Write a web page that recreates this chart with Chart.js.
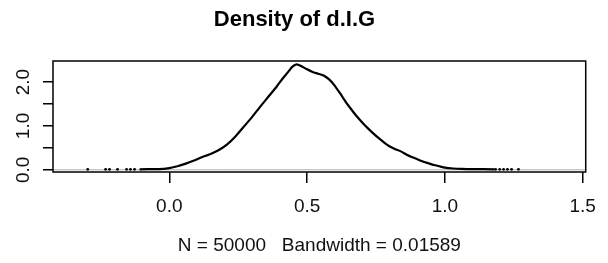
<!DOCTYPE html>
<html>
<head>
<meta charset="utf-8">
<script src="https://cdn.jsdelivr.net/npm/chart.js@4"></script>
<style>
  html, body { margin: 0; padding: 0; background: #fff; }
  #wrap { width: 608px; height: 263px; }
</style>
</head>
<body>
<div id="wrap"><canvas id="c" width="608" height="263"></canvas></div>
<script>
// Density curve of d.I.G (x, density)
const densX = [-0.108, -0.05, -0.02, 0.00, 0.03, 0.06, 0.09, 0.12, 0.15, 0.18,
               0.21, 0.24, 0.27, 0.30, 0.33, 0.36, 0.39, 0.41, 0.43, 0.445,
               0.46, 0.47, 0.48, 0.50, 0.52, 0.54, 0.56, 0.58, 0.60, 0.62,
               0.64, 0.66, 0.68, 0.70, 0.72, 0.74, 0.76, 0.78, 0.80, 0.82,
               0.84, 0.86, 0.88, 0.90, 0.92, 0.94, 0.96, 0.98, 1.00, 1.03,
               1.06, 1.10, 1.18];
const densY = [0.012, 0.015, 0.02, 0.04, 0.08, 0.14, 0.21, 0.29, 0.36, 0.45,
               0.58, 0.76, 0.98, 1.20, 1.44, 1.67, 1.90, 2.07, 2.22, 2.34,
               2.40, 2.39, 2.36, 2.29, 2.23, 2.19, 2.15, 2.06, 1.92, 1.74,
               1.55, 1.38, 1.22, 1.08, 0.95, 0.83, 0.72, 0.62, 0.53, 0.47,
               0.42, 0.35, 0.29, 0.24, 0.19, 0.15, 0.11, 0.08, 0.05, 0.03,
               0.02, 0.015, 0.012];

// isolated outliers showing as small bumps on the zero line
const outlierX = [-0.296, -0.231, -0.217, -0.188, -0.155, -0.141, -0.126,
                  1.184, 1.199, 1.213, 1.227, 1.242, 1.267];

const xTickVals = [0, 0.5, 1.0, 1.5];
const xTickLabels = ['0.0', '0.5', '1.0', '1.5'];
const yTickVals = [0, 0.5, 1.0, 1.5, 2.0];
const yTickLabels = ['0.0', '', '1.0', '', '2.0'];

const xMin = -0.422, xMax = 1.511;
const yMin = -0.05, yMax = 2.48;

const titleText = 'Density of d.I.G';
const subText = 'N = 50000   Bandwidth = 0.01589';

const FONT = "'Liberation Sans', Arial, sans-serif";

// frame around the plot region + rotated y labels, like base R
const boxPlugin = {
    id: 'rbox',
    afterDraw(chart) {
        const { ctx, chartArea: a, scales } = chart;
        ctx.save();
        ctx.strokeStyle = '#000';
        ctx.lineWidth = 1.5;
        ctx.strokeRect(a.left, a.top, a.right - a.left, a.bottom - a.top);

        ctx.fillStyle = '#111';
        ctx.font = `19px ${FONT}`;
        ctx.textAlign = 'center';
        ctx.textBaseline = 'middle';
        yTickVals.forEach((v, i) => {
            if (!yTickLabels[i]) return;
            const py = scales.y.getPixelForValue(v);
            ctx.save();
            ctx.translate(a.left - 29, py);
            ctx.rotate(-Math.PI / 2);
            ctx.fillText(yTickLabels[i], 0, 0);
            ctx.restore();
        });
        ctx.restore();
    }
};

const config = {
    type: 'line',
    data: {
        datasets: [
            {
                label: 'density',
                data: densX.map((x, i) => ({ x: x, y: densY[i] })),
                borderColor: '#000',
                borderWidth: 2.2,
                pointRadius: 0,
                tension: 0.15,
                order: 1
            },
            {
                label: 'outliers',
                type: 'scatter',
                data: outlierX.map(x => ({ x: x, y: 0.012 })),
                backgroundColor: '#000',
                borderColor: '#000',
                pointRadius: 1.4,
                borderWidth: 0,
                order: 2
            },
            {
                label: 'zero',
                data: [{ x: xMin, y: 0 }, { x: xMax, y: 0 }],
                borderColor: '#b0b0b0',
                borderWidth: 1,
                pointRadius: 0,
                order: 3
            }
        ]
    },
    options: {
        responsive: false,
        animation: false,
        events: [],
        layout: { padding: { left: 0, right: 19, top: 0, bottom: 0 } },
        plugins: {
            legend: { display: false },
            tooltip: { enabled: false },
            title: {
                display: true,
                text: titleText,
                color: '#000',
                font: { family: FONT, size: 22, weight: 'bold' },
                padding: { top: 7, bottom: 27.6 }
            }
        },
        scales: {
            x: {
                type: 'linear',
                min: xMin,
                max: xMax,
                afterBuildTicks: (scale) => {
                    scale.ticks = xTickVals.map(v => ({ value: v }));
                },
                afterFit: (scale) => { scale.height = 91; },
                border: { display: false },
                grid: {
                    drawOnChartArea: false,
                    drawTicks: true,
                    tickLength: 11,
                    color: '#000',
                    lineWidth: 1.5
                },
                ticks: {
                    color: '#111',
                    font: { family: FONT, size: 19 },
                    padding: 12,
                    maxRotation: 0,
                    callback: (v) => xTickLabels[xTickVals.indexOf(v)]
                },
                title: {
                    display: true,
                    text: subText,
                    color: '#111',
                    font: { family: FONT, size: 19 },
                    padding: { top: 0, bottom: 6 }
                }
            },
            y: {
                type: 'linear',
                min: yMin,
                max: yMax,
                afterBuildTicks: (scale) => {
                    scale.ticks = yTickVals.map(v => ({ value: v }));
                },
                afterFit: (scale) => { scale.width = 53; },
                border: { display: false },
                grid: {
                    drawOnChartArea: false,
                    drawTicks: true,
                    tickLength: 10,
                    color: '#000',
                    lineWidth: 1.5
                },
                ticks: { display: false }
            }
        }
    },
    plugins: [boxPlugin]
};

new Chart(document.getElementById('c'), config);
</script>
</body>
</html>
